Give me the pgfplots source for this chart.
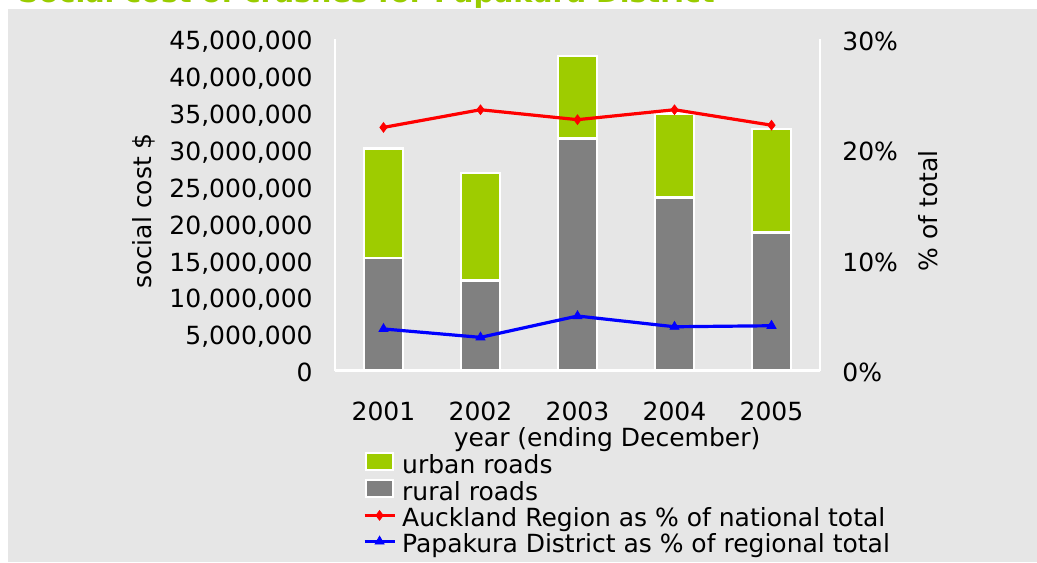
\documentclass[border=0pt]{standalone}
\usepackage{fontspec}
\setmainfont{DejaVu Sans}
\usepackage{pgfplots}
\pgfplotsset{compat=1.18}
\definecolor{bg}{RGB}{230,230,230}
\definecolor{urban}{RGB}{158,204,0}
\definecolor{rural}{RGB}{128,128,128}
\definecolor{titlegreen}{RGB}{153,204,0}
\newcommand\fs{\fontsize{12.5}{15}\selectfont}
\newcommand\lstrut{\rule[-3.5pt]{0pt}{13.5pt}}
\pgfplotsset{
  patchlegend/.style={legend image code/.code={\draw[##1] (0.5pt,-2.75pt) rectangle (14.2pt,5.75pt);}},
  linelegend/.style={legend image code/.code={\draw[##1, mark repeat=2, mark phase=2] plot coordinates {(0pt,1.05pt) (7.5pt,1.05pt) (15pt,1.05pt)};}},
}

\begin{document}
\begin{tikzpicture}
\fill[white] (-167.5pt,-95.75pt) rectangle (351pt,185.25pt);
\fill[bg] (-163.5pt,-95.75pt) rectangle (351pt,180.75pt);
\node[anchor=base west, inner sep=0pt, font=\fontsize{14.3}{16}\selectfont\bfseries, text=titlegreen] at (-158.5pt,184pt) {Social cost of crashes for Papakura District};

\pgfplotsset{common/.style={
  width=242.5pt, height=165.75pt, scale only axis,
  at={(0pt,0pt)}, anchor=south west,
  xmin=-0.5, xmax=4.5,
  major tick length=0pt,
  tick style={draw=none},
  axis line style={draw=white, line width=1.2pt, -},
  font=\fs,
  ticklabel style={font=\fs},
  scaled y ticks=false,
}}

\begin{axis}[common,
  axis x line*=bottom, axis y line*=left,
  ymin=0, ymax=45000000,
  ybar stacked, bar width=19.5pt,
  xtick={0,1,2,3,4}, xticklabels={2001,2002,2003,2004,2005},
  xticklabel style={anchor=north, inner sep=0pt, yshift=-15.5pt},
  ytick={0,5000000,10000000,15000000,20000000,25000000,30000000,35000000,40000000,45000000},
  yticklabels={0,{5,000,000},{10,000,000},{15,000,000},{20,000,000},{25,000,000},{30,000,000},{35,000,000},{40,000,000},{45,000,000}},
  yticklabel style={anchor=base east, inner sep=0pt, xshift=-11pt, yshift=-5.5pt},
  ylabel={social cost \$},
  ylabel style={at={(axis description cs:-0.394,0.482)}, anchor=center},
  xlabel={year (ending December)},
  xlabel style={at={(axis description cs:0.561,-0.229)}, anchor=base},
]
\addplot[fill=rural, draw=white, line width=1.2pt] coordinates {(0,15.27e6) (1,12.22e6) (2,31.52e6) (3,23.48e6) (4,18.71e6)};
\addplot[fill=urban, draw=white, line width=1.2pt] coordinates {(0,14.89e6) (1,14.63e6) (2,11.17e6) (3,11.42e6) (4,14.07e6)};
\end{axis}

\begin{axis}[common,
  axis x line=none, axis y line*=right,
  ymin=0, ymax=30,
  ytick={0,10,20,30}, yticklabels={0\%,10\%,20\%,30\%},
  yticklabel style={anchor=base west, inner sep=0pt, xshift=11pt, yshift=-5.5pt},
  ylabel={\% of total},
  ylabel style={at={(axis description cs:1.2227,0.482)}, anchor=center},
  legend style={draw=none, fill=none, inner sep=0pt, outer sep=0pt, at={(axis description cs:0.0577,-0.2459)}, anchor=north west, font=\fs, nodes={inner sep=0pt}, row sep=1.5pt, column sep=3pt},
  legend cell align=left,
]
\addlegendimage{fill=urban, draw=white, line width=1pt, patchlegend}
\addlegendentry{\lstrut urban roads}
\addlegendimage{fill=rural, draw=white, line width=1pt, patchlegend}
\addlegendentry{\lstrut rural roads}
\addplot[red, line width=1.6pt, mark=diamond*, mark size=2.4pt, mark options={line width=0.4pt, solid}, linelegend] coordinates {(0,22.0) (1,23.6) (2,22.7) (3,23.6) (4,22.2)};
\addlegendentry{\lstrut Auckland Region as \% of national total}
\addplot[blue, line width=1.6pt, mark=triangle*, mark size=2.6pt, mark options={line width=0.4pt, solid}, linelegend] coordinates {(0,3.76) (1,3.0) (2,4.93) (3,3.96) (4,4.05)};
\addlegendentry{\lstrut Papakura District as \% of regional total}
\end{axis}
\pgfresetboundingbox
\useasboundingbox (-167.5pt,-95.75pt) rectangle (351pt,185.25pt);
\end{tikzpicture}
\end{document}
